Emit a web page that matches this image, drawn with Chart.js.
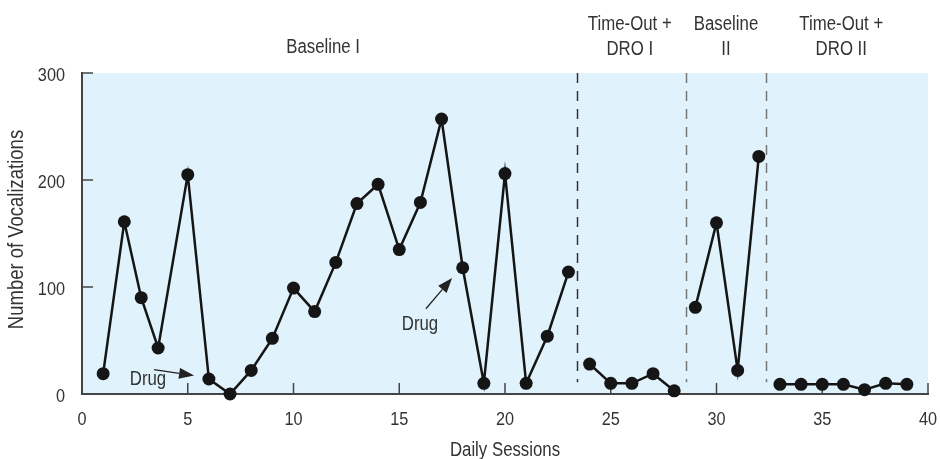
<!DOCTYPE html>
<html>
<head>
<meta charset="utf-8">
<script src="https://cdn.jsdelivr.net/npm/chart.js@4.4.1/dist/chart.umd.min.js"></script>
<style>
  body { margin: 0; background: #fff; }
  #wrap { width: 940px; height: 459px; }
</style>
</head>
<body>
<div id="wrap"><canvas id="grafico"></canvas></div>
<script>
// data
var baseline1Sessions = [1, 2, 2.8, 3.6, 5, 6, 7, 8, 9, 10, 11, 12, 13, 14, 15, 16, 17, 18, 19, 20, 21, 22, 23];
var baseline1Values   = [19, 161, 90, 43, 205, 14, 0, 22, 52, 99, 77, 123, 178, 196, 135, 179, 257, 118, 10, 206, 10, 54, 114];
var timeout1Sessions  = [24, 25, 26, 27, 28];
var timeout1Values    = [28, 10, 10, 19, 3];
var baseline2Sessions = [29, 30, 31, 32];
var baseline2Values   = [81, 160, 22, 222];
var timeout2Sessions  = [33, 34, 35, 36, 37, 38, 39];
var timeout2Values    = [9, 9, 9, 9, 4, 10, 9];

var phaseChanges = [23.4, 28.55, 32.35];
var xTicks = [0, 5, 10, 15, 20, 25, 30, 35, 40];
var yTicks = [0, 100, 200, 300];

var xTitle = 'Daily Sessions';
var yTitle = 'Number of Vocalizations';

// phase labels: x in sessions
var phaseLabels = [
  { x: 11.4, lines: ['Baseline I'] },
  { x: 25.9, lines: ['Time-Out +', 'DRO I'] },
  { x: 30.45, lines: ['Baseline', 'II'] },
  { x: 35.9, lines: ['Time-Out +', 'DRO II'] }
];

// "Drug" notes in data units
var drugNotes = [
  { tx: 3.12, ty: 8.7, from: [3.4, 22.7], to: [5.3, 17.2] },
  { tx: 15.98, ty: 60, from: [16.26, 79.7], to: [17.5, 108.5] }
];

var fonte = "'Liberation Sans', Arial, sans-serif";
var corTexto = '#333';
var estreito = 0.84; // horizontal squeeze to mimic the condensed face

function texto(ctx, str, x, y, size, align, squeeze, rot) {
  ctx.save();
  ctx.translate(x, y);
  if (rot) ctx.rotate(rot);
  ctx.scale(squeeze, 1);
  ctx.font = size + 'px ' + fonte;
  ctx.textAlign = align;
  ctx.textBaseline = 'alphabetic';
  ctx.fillStyle = corTexto;
  ctx.fillText(str, 0, 0);
  ctx.restore();
}

function serie(xs, ys) {
  return {
    data: xs.map(function (x, i) { return { x: x, y: ys[i] }; }),
    borderColor: '#151515',
    backgroundColor: '#151515',
    borderWidth: 2.5,
    pointRadius: 6.5,
    pointHoverRadius: 6.5,
    pointBorderWidth: 0,
    tension: 0,
    clip: false
  };
}

var extras = {
  id: 'extras',
  beforeDraw: function (chart) {
    var a = chart.chartArea, ctx = chart.ctx;
    ctx.save();
    ctx.fillStyle = '#e0f2fb';
    ctx.fillRect(a.left, a.top, a.right - a.left, a.bottom - a.top);
    ctx.restore();
  },
  beforeDatasetsDraw: function (chart) {
    var a = chart.chartArea, ctx = chart.ctx;
    var xs = chart.scales.x, ys = chart.scales.y;
    ctx.save();
    // dashed phase lines
    ctx.lineWidth = 1.5;
    ctx.setLineDash([10, 8]);
    phaseChanges.forEach(function (p, i) {
      ctx.strokeStyle = i === 0 ? '#333' : '#777';
      var px = Math.round(xs.getPixelForValue(p)) + 0.5;
      ctx.beginPath();
      ctx.moveTo(px, a.top);
      ctx.lineTo(px, ys.getPixelForValue(11));
      ctx.stroke();
    });
    ctx.setLineDash([]);
    // inward tick marks
    ctx.strokeStyle = '#444';
    ctx.lineWidth = 1.5;
    xs.ticks.forEach(function (t) {
      if (t.value === 0) return;
      var px = xs.getPixelForValue(t.value);
      ctx.beginPath();
      ctx.moveTo(px, a.bottom);
      ctx.lineTo(px, a.bottom - 11);
      ctx.stroke();
    });
    ys.ticks.forEach(function (t) {
      if (t.value === 0) return;
      var py = ys.getPixelForValue(t.value);
      ctx.beginPath();
      ctx.moveTo(a.left, py);
      ctx.lineTo(a.left + 11, py);
      ctx.stroke();
    });
    ctx.restore();
  },
  afterDraw: function (chart) {
    var a = chart.chartArea, ctx = chart.ctx;
    var xs = chart.scales.x, ys = chart.scales.y;
    // tick labels
    xs.ticks.forEach(function (t) {
      texto(ctx, String(t.value), xs.getPixelForValue(t.value), a.bottom + 31, 18.5, 'center', 0.88);
    });
    ys.ticks.forEach(function (t) {
      texto(ctx, String(t.value), a.left - 17, ys.getPixelForValue(t.value) + 8, 18.5, 'right', 0.88);
    });
    // axis titles
    texto(ctx, xTitle, (a.left + a.right) / 2, 456, 20, 'center', estreito);
    texto(ctx, yTitle, 23, (a.top + a.bottom) / 2 - 4, 22, 'center', estreito, -Math.PI / 2);
    // phase labels
    phaseLabels.forEach(function (p) {
      var px = xs.getPixelForValue(p.x);
      if (p.lines.length === 1) {
        texto(ctx, p.lines[0], px, a.top - 20, 20, 'center', estreito);
      } else {
        texto(ctx, p.lines[0], px, a.top - 43, 20, 'center', estreito);
        texto(ctx, p.lines[1], px, a.top - 18, 20, 'center', estreito);
      }
    });
    // drug notes
    ctx.save();
    drugNotes.forEach(function (d) {
      texto(ctx, 'Drug', xs.getPixelForValue(d.tx), ys.getPixelForValue(d.ty), 20, 'center', estreito);
      var x1 = xs.getPixelForValue(d.from[0]), y1 = ys.getPixelForValue(d.from[1]);
      var x2 = xs.getPixelForValue(d.to[0]), y2 = ys.getPixelForValue(d.to[1]);
      var ang = Math.atan2(y2 - y1, x2 - x1);
      var len = 15, half = 5.5;
      var bx = x2 - len * Math.cos(ang), by = y2 - len * Math.sin(ang);
      ctx.strokeStyle = '#222';
      ctx.lineWidth = 1.3;
      ctx.beginPath();
      ctx.moveTo(x1, y1);
      ctx.lineTo(bx, by);
      ctx.stroke();
      ctx.fillStyle = '#222';
      ctx.beginPath();
      ctx.moveTo(x2, y2);
      ctx.lineTo(bx + half * Math.sin(ang), by - half * Math.cos(ang));
      ctx.lineTo(bx - half * Math.sin(ang), by + half * Math.cos(ang));
      ctx.closePath();
      ctx.fill();
    });
    ctx.restore();
  }
};

var ctxGrafico = document.getElementById('grafico').getContext('2d');
new Chart(ctxGrafico, {
  type: 'line',
  data: {
    datasets: [
      serie(baseline1Sessions, baseline1Values),
      serie(timeout1Sessions, timeout1Values),
      serie(baseline2Sessions, baseline2Values),
      serie(timeout2Sessions, timeout2Values)
    ]
  },
  options: {
    responsive: true,
    maintainAspectRatio: false,
    animation: false,
    layout: { padding: { top: 73, right: 12, left: 0, bottom: 0 } },
    plugins: { legend: { display: false }, tooltip: { enabled: false } },
    scales: {
      x: {
        type: 'linear',
        min: 0,
        max: 40,
        afterBuildTicks: function (s) { s.ticks = xTicks.map(function (v) { return { value: v }; }); },
        afterFit: function (s) { s.height = 65; s.paddingLeft = 0; s.paddingRight = 0; },
        grid: { display: false, drawTicks: false },
        border: { display: true, color: '#444', width: 2 },
        ticks: { display: false }
      },
      y: {
        min: 0,
        max: 300,
        afterBuildTicks: function (s) { s.ticks = yTicks.map(function (v) { return { value: v }; }); },
        afterFit: function (s) { s.width = 82; s.paddingTop = 0; s.paddingBottom = 0; },
        grid: { display: false, drawTicks: false },
        border: { display: true, color: '#444', width: 2 },
        ticks: { display: false }
      }
    }
  },
  plugins: [extras]
});
</script>
</body>
</html>
